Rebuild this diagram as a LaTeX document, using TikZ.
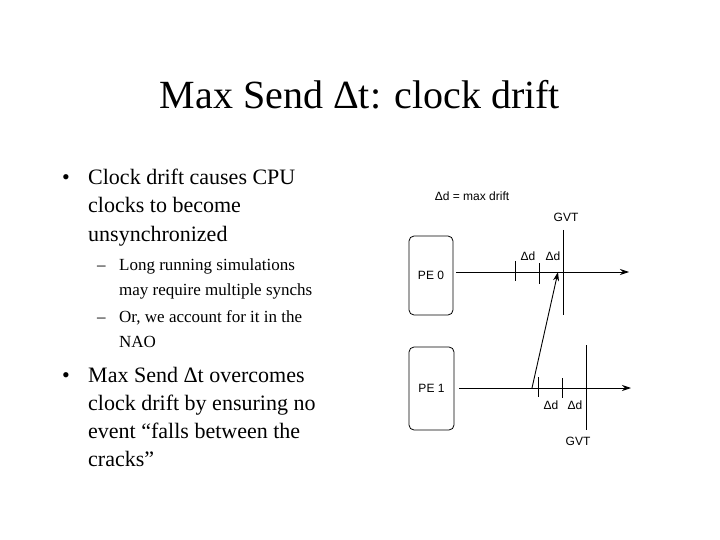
\documentclass[tikz,border=0pt]{standalone}
\usepackage{fontspec}
\usetikzlibrary{arrows.meta}
\setmainfont{Liberation Serif}
\newfontfamily\arial{Liberation Sans}
\begin{document}
\begin{tikzpicture}[x=1pt,y=-1pt,
 big/.style={anchor=base west,inner sep=0pt,font=\fontsize{22}{26}\selectfont},
 small/.style={anchor=base west,inner sep=0pt,font=\fontsize{17}{20}\selectfont},
 dl/.style={inner sep=0pt,font=\arial\fontsize{12}{14}\selectfont},
 pe/.style={draw,rounded corners=5pt,line width=0.8pt,inner sep=0pt},
 ln/.style={line width=0.9pt},
 arr/.style={ln,-{Stealth[length=9pt,width=6pt]}}]
\useasboundingbox (0,0) rectangle (720,540);
\fill[white] (0,0) rectangle (720,540);
\node[inner sep=0pt,font=\fontsize{40}{44}\selectfont] (title) at (360,95) {Max Send Δt: clock drift};
\node[big] (b1) at (62,185) {•};
\node[big] (l1) at (88,185) {Clock drift causes CPU};
\node[big] (l2) at (88,213) {clocks to become};
\node[big] (l3) at (88,241) {unsynchronized};
\node[small] (d1) at (97,270) {–};
\node[small] (s1) at (119,270) {Long running simulations};
\node[small] (s2) at (119,295) {may require multiple synchs};
\node[small] (d2) at (97,322) {–};
\node[small] (s3) at (119,322) {Or, we account for it in the};
\node[small] (s4) at (119,347) {NAO};
\node[big] (b2) at (62,382) {•};
\node[big] (m1) at (88,382) {Max Send Δt overcomes};
\node[big] (m2) at (88,410) {clock drift by ensuring no};
\node[big] (m3) at (88,438) {event “falls between the};
\node[big] (m4) at (88,466) {cracks”};
% diagram
\node[dl] (legend) at (472,196) {Δd = max drift};
\node[pe,minimum width=44pt,minimum height=79pt] (pe0) at (431,275.5) {};
\node[dl] at (pe0) {PE 0};
\node[pe,minimum width=45pt,minimum height=83pt] (pe1) at (431.5,388.5) {};
\node[dl] at (pe1) {PE 1};
\coordinate (e0) at (629,272);
\coordinate (e1) at (631,388);
\draw[arr] (pe0.east|-e0) ++(3,0) coordinate (s0) -- (e0);
\draw[arr] (pe1.east|-e1) ++(5,0) coordinate (s1c) -- (e1);
\draw[ln] (515,261) -- (515,281);
\draw[ln] (539,263) -- (539,284);
\draw[ln] (563,230) -- (563,315);
\draw[ln] (538,377) -- (538,397);
\draw[ln] (562,378) -- (562,398);
\draw[ln] (586,345) -- (586,430);
\node[dl] (g0) at (566,217) {GVT};
\node[dl] (g1) at (578,441) {GVT};
\node[dl] at (528,256) {Δd};
\node[dl] at (553,256) {Δd};
\node[dl] at (551,405) {Δd};
\node[dl] at (575,405) {Δd};
\coordinate (m0) at (532,388);
\coordinate (mt) at (558,272);
\draw[arr] (m0) -- (mt);
\end{tikzpicture}
\end{document}
